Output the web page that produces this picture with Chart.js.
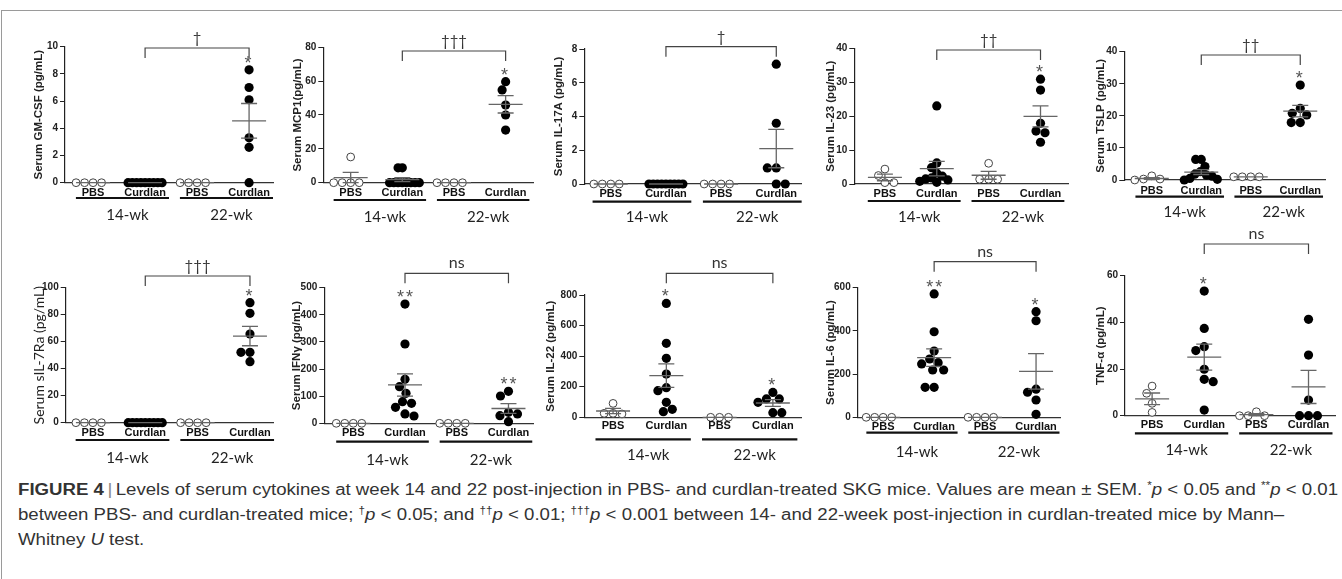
<!DOCTYPE html>
<html>
<head>
<meta charset="utf-8">
<script src="https://cdn.jsdelivr.net/npm/chart.js@4.4.1/dist/chart.umd.min.js"></script>
<style>
  body { margin: 0; background: #fff; width: 1342px; height: 579px; overflow: hidden; position: relative; }
  .frame { position: absolute; left: 1px; top: 10px; width: 1341px; height: 569px; border-top: 1px solid #9a9a9a; border-left: 1px solid #9a9a9a; }
  .panel { position: absolute; }
  .cap { position: absolute; left: 18px; white-space: nowrap; font-family: "Liberation Sans Narrow", "Liberation Sans", Arial, sans-serif; font-size: 16px; line-height: 20px; color: #333; transform-origin: 0 50%; }
  .cap sup { font-size: 10px; vertical-align: 6px; line-height: 0; }
  .bar { color: #888; padding: 0 3px; }
</style>
</head>
<body>
<div class="frame"></div>
<div id="charts"></div>
<div class="cap" id="cap1" style="top:480px"><b>FIGURE 4</b><span class="bar">|</span>Levels of serum cytokines at week 14 and 22 post-injection in PBS- and curdlan-treated SKG mice. Values are mean ± SEM. <sup>*</sup><i>p</i> &lt; 0.05 and <sup>**</sup><i>p</i> &lt; 0.01</div>
<div class="cap" style="top:505px">between PBS- and curdlan-treated mice; <sup>†</sup><i>p</i> &lt; 0.05; and <sup>††</sup><i>p</i> &lt; 0.01; <sup>†††</sup><i>p</i> &lt; 0.001 between 14- and 22-week post-injection in curdlan-treated mice by Mann–</div>
<div class="cap" style="top:530px">Whitney <i>U</i> test.</div>

<script>
// groups on every panel
const groupLabels = ["PBS", "Curdlan", "PBS", "Curdlan"];
const weekLabels = ["14-wk", "22-wk"];

const axisTitles = [
  "Serum GM-CSF (pg/mL)", "Serum MCP1(pg/mL)", "Serum IL-17A (pg/mL)", "Serum IL-23 (pg/mL)", "Serum TSLP (pg/mL)",
  "Serum sIL-7Ra (pg/mL)", "Serum IFN\u03b3 (pg/mL)", "Serum IL-22 (pg/mL)", "Serum IL-6 (pg/mL)", "TNF-\u03b1 (pg/mL)"
];
// label over the 14-wk vs 22-wk curdlan bracket
const sigLabels = ["\u2020", "\u2020\u2020\u2020", "\u2020", "\u2020\u2020", "\u2020\u2020", "\u2020\u2020\u2020", "ns", "ns", "ns", "ns"];

// values per group: [PBS 14-wk, Curdlan 14-wk, PBS 22-wk, Curdlan 22-wk]
const gmCsf = [[0, 0, 0, 0], [0, 0, 0, 0, 0, 0, 0, 0, 0], [0, 0, 0, 0], [8.3, 7.0, 6.1, 3.3, 2.6, 0]];
const mcp1 = [[15.2, 0, 0, 0, 0], [8.8, 8.8, 0, 0, 0, 0, 0, 0, 0, 0], [0, 0, 0, 0], [59.7, 54.8, 45.9, 40.0, 31.1]];
const il17a = [[0, 0, 0, 0], [0, 0, 0, 0, 0, 0, 0, 0, 0], [0, 0, 0, 0], [7.1, 3.6, 0.95, 0.95, 0, 0]];
const il23 = [[4.4, 2.5, 0.4, 0.4], [23, 6.2, 4.8, 3.2, 2.3, 1.8, 1.5, 1.2, 0.8, 0.5], [6.1, 1.4, 1.4, 1.4], [30.9, 27.7, 17.9, 15.6, 15.1, 12.3]];
const tslp = [[0, 0.3, 1.3, 0.3], [6.4, 6.4, 4.2, 2.6, 1.8, 1.5, 1.2, 0.5, 0.2, 0], [1.0, 1.0, 1.0, 1.0], [29.6, 22.3, 20.8, 20.3, 17.9, 17.9]];
const sil7ra = [[0, 0, 0, 0], [0, 0, 0, 0, 0, 0, 0, 0, 0], [0, 0, 0, 0], [88.9, 81.0, 65.7, 52.1, 52.1, 45.2]];
const ifng = [[0, 0, 0, 0], [439.8, 292.4, 162, 135, 110.6, 79.9, 73.7, 59, 34.4, 27], [0, 0, 0, 0], [118, 100.7, 40.5, 34.4, 28, 6]];
const il22 = [[91, 26, 26, 22], [745, 484, 386, 283, 194, 174, 98, 52, 37], [0, 0, 0], [163, 120, 120, 98, 30.5, 30.5]];
const il6 = [[0, 0, 0, 0], [571, 396, 307, 270, 253, 247, 219, 219, 139, 139], [0, 0, 0, 0], [489, 447, 130, 116, 80, 14]];
const tnfa = [[12.7, 9.6, 5.3, 1.4], [53.4, 37.4, 29.6, 27.9, 19.9, 15.6, 14.6, 2.4], [0, 0, 1.7, 0], [41.3, 26, 6.7, 0, 0, 0]];

// y tick labels
const gmCsfTicks = [0, 2, 4, 6, 8, 10];
const mcp1Ticks = [0, 20, 40, 60, 80];
const il17aTicks = [0, 2, 4, 6, 8];
const il23Ticks = [0, 10, 20, 30, 40];
const tslpTicks = [0, 10, 20, 30, 40];
const sil7raTicks = [0, 20, 40, 60, 80, 100];
const ifngTicks = [0, 100, 200, 300, 400, 500];
const il22Ticks = [0, 200, 400, 600, 800];
const il6Ticks = [0, 200, 400, 600];
const tnfaTicks = [0, 20, 40, 60];

// significance vs PBS, per group
const gmCsfStars = ["", "", "", "*"];
const mcp1Stars = ["", "", "", "*"];
const il17aStars = ["", "", "", ""];
const il23Stars = ["", "", "", "*"];
const tslpStars = ["", "", "", "*"];
const sil7raStars = ["", "", "", "*"];
const ifngStars = ["", "**", "", "**"];
const il22Stars = ["", "*", "", "*"];
const il6Stars = ["", "**", "", "*"];
const tnfaStars = ["", "*", "", ""];

const panelData = [
  [gmCsf, gmCsfTicks, gmCsfStars], [mcp1, mcp1Ticks, mcp1Stars], [il17a, il17aTicks, il17aStars],
  [il23, il23Ticks, il23Stars], [tslp, tslpTicks, tslpStars], [sil7ra, sil7raTicks, sil7raStars],
  [ifng, ifngTicks, ifngStars], [il22, il22Ticks, il22Stars], [il6, il6Ticks, il6Stars], [tnfa, tnfaTicks, tnfaStars]
];

// page layout: canvas box, plot edges (axis x, top, right, zero line), x limits, title x, bracket y, label offsets
const layouts = [
  { box: [20, 12, 262, 216], plot: [65, 46.7, 273, 182.7], xLim: [0.46, 4.46], titleX: 39, brY: 48, dy: [10.3, 15.3, 32.3] },
  { box: [284, 12, 258, 216], plot: [323.3, 47.3, 533, 182.7], xLim: [0.47, 4.53], titleX: 297.5, brY: 51, dy: [10.6, 17.3, 34] },
  { box: [544, 12, 262, 216], plot: [584.3, 49, 801.7, 184], xLim: [0.52, 4.45], titleX: 559, brY: 46.7, dy: [10, 17.7, 32.7] },
  { box: [808, 12, 268, 216], plot: [854.3, 48.3, 1068, 184], xLim: [0.41, 4.53], titleX: 830.5, brY: 50, dy: [10, 17, 32.7] },
  { box: [1080, 12, 260, 216], plot: [1124.3, 51.7, 1325, 180], xLim: [0.445, 4.5], titleX: 1100.5, brY: 55, dy: [10.7, 16.7, 31.7] },
  { box: [20, 222, 262, 250], plot: [65.7, 287.7, 273, 422.7], xLim: [0.48, 4.44], titleX: 39, brY: 276, dy: [10.6, 17.3, 35.6], plainTitle: true },
  { box: [284, 222, 258, 250], plot: [324.3, 287.7, 533.3, 423.3], xLim: [0.44, 4.48], titleX: 296.5, brY: 273.3, dy: [10, 18.4, 36.7] },
  { box: [544, 222, 262, 250], plot: [584.3, 295, 803.3, 417.3], xLim: [0.46, 4.53], titleX: 551, brY: 273.3, dy: [8.7, 22, 37.7] },
  { box: [808, 222, 268, 250], plot: [857.7, 287.7, 1060, 417.3], xLim: [0.5, 4.47], titleX: 830.5, brY: 261.7, dy: [10, 15.4, 34.4] },
  { box: [1080, 222, 260, 250], plot: [1125, 275.7, 1336.7, 415.7], xLim: [0.48, 4.51], titleX: 1100.5, brY: 244, dy: [9.3, 17.6, 34.3] }
];

const ARIAL = '"Liberation Sans", Arial, sans-serif';

// simple beeswarm so equal values sit side by side
function swarm(vals, cat, pxPerY, pxPerX) {
  const D = 9, maxHalf = 17;
  const order = vals.map((v, i) => i).sort((a, b) => vals[b] - vals[a]);
  const placed = [];
  const offs = new Array(vals.length).fill(0);
  let side = -1;
  order.forEach(i => {
    const py = vals[i] * pxPerY;
    let ox = 0;
    for (let k = 0; k < 400; k++) {
      const cands = k === 0 ? [0] : [side * k * 0.5, -side * k * 0.5];
      const hit = cands.find(c => placed.every(p => (p.ox - c) ** 2 + (p.py - py) ** 2 >= D * D));
      if (hit !== undefined) { ox = hit; break; }
    }
    if (ox !== 0) side = -Math.sign(ox);
    placed.push({ ox, py });
    offs[i] = ox;
  });
  const m = Math.max(...offs.map(Math.abs));
  const s = m > maxHalf ? maxHalf / m : 1;
  return vals.map((v, i) => ({ x: cat + offs[i] * s / pxPerX, y: v }));
}

function meanSem(vals) {
  const n = vals.length;
  const m = vals.reduce((a, b) => a + b, 0) / n;
  const sd = Math.sqrt(vals.reduce((a, b) => a + (b - m) ** 2, 0) / (n - 1));
  return { m, sem: sd / Math.sqrt(n) };
}

function makeDeco(idx, values, stars, L) {
  return {
    id: 'deco' + idx,
    afterDatasetsDraw(chart) {
      const ctx = chart.ctx, xs = chart.scales.x, ys = chart.scales.y;
      ctx.save();
      ctx.strokeStyle = '#666';
      ctx.lineWidth = 1.3;
      values.forEach((g, gi) => {
        const st = meanSem(g);
        const cx = xs.getPixelForValue(gi + 1);
        const ym = ys.getPixelForValue(st.m);
        const yl = ys.getPixelForValue(st.m - st.sem);
        const yh = ys.getPixelForValue(st.m + st.sem);
        ctx.beginPath();
        ctx.moveTo(cx - 17, ym); ctx.lineTo(cx + 17, ym);
        ctx.moveTo(cx, yl); ctx.lineTo(cx, yh);
        ctx.moveTo(cx - 8, yl); ctx.lineTo(cx + 8, yl);
        ctx.moveTo(cx - 8, yh); ctx.lineTo(cx + 8, yh);
        ctx.stroke();
      });
      ctx.restore();
    },
    afterDraw(chart) {
      const ctx = chart.ctx, xs = chart.scales.x, ys = chart.scales.y;
      const ox = L.box[0], oy = L.box[1];
      const y0 = ys.getPixelForValue(0);
      ctx.save();
      // y-axis title
      ctx.save();
      ctx.translate(L.titleX - ox, (chart.chartArea.top + chart.chartArea.bottom) / 2);
      ctx.rotate(-Math.PI / 2);
      ctx.fillStyle = '#222';
      ctx.textAlign = 'center';
      ctx.textBaseline = 'middle';
      ctx.font = L.plainTitle ? '14px Lato, sans-serif' : 'bold 11.5px ' + ARIAL;
      ctx.fillText(axisTitles[idx], 0, 0);
      ctx.restore();
      // group labels
      ctx.fillStyle = '#111';
      ctx.textAlign = 'center';
      ctx.textBaseline = 'middle';
      ctx.font = 'bold 11px ' + ARIAL;
      groupLabels.forEach((t, gi) => ctx.fillText(t, xs.getPixelForValue(gi + 1), y0 + L.dy[0]));
      // week underlines and labels
      ctx.strokeStyle = '#111';
      ctx.lineWidth = 2.2;
      ctx.font = '15px Lato, sans-serif';
      ctx.fillStyle = '#222';
      weekLabels.forEach((t, wi) => {
        const a = xs.getPixelForValue(2 * wi + 1 - 0.33);
        const b = xs.getPixelForValue(2 * wi + 2 + 0.46);
        ctx.beginPath();
        ctx.moveTo(a, y0 + L.dy[1]); ctx.lineTo(b, y0 + L.dy[1]);
        ctx.stroke();
        ctx.fillText(t, (a + b) / 2 + 5, y0 + L.dy[2]);
      });
      // bracket between curdlan groups
      const bx1 = xs.getPixelForValue(2), bx2 = xs.getPixelForValue(4), by = L.brY - oy;
      ctx.strokeStyle = '#444';
      ctx.lineWidth = 1.2;
      ctx.beginPath();
      ctx.moveTo(bx1, by + 10); ctx.lineTo(bx1, by); ctx.lineTo(bx2, by); ctx.lineTo(bx2, by + 10);
      ctx.stroke();
      const sig = sigLabels[idx];
      ctx.fillStyle = '#333';
      ctx.textBaseline = 'alphabetic';
      ctx.font = sig === 'ns' ? '16px Lato, sans-serif' : '15px Lato, sans-serif';
      ctx.fillText(sig, (bx1 + bx2) / 2, by - 5);
      // asterisks
      ctx.fillStyle = '#555';
      ctx.font = '18px ' + ARIAL;
      ctx.letterSpacing = '2px';
      stars.forEach((s, gi) => {
        if (!s) return;
        const top = ys.getPixelForValue(Math.max(...values[gi]));
        ctx.fillText(s, xs.getPixelForValue(gi + 1) + (s.length > 1 ? 1 : 0), top - 1);
      });
      ctx.restore();
    }
  };
}

const holder = document.getElementById('charts');
panelData.forEach(([values, ticks, stars], idx) => {
  const L = layouts[idx];
  const [left, top, w, h] = L.box;
  const [axisX, yTop, xRight, y0] = L.plot;
  const div = document.createElement('div');
  div.className = 'panel';
  div.style.left = left + 'px';
  div.style.top = top + 'px';
  const cv = document.createElement('canvas');
  cv.width = w; cv.height = h;
  div.appendChild(cv);
  holder.appendChild(div);

  const yMax = ticks[ticks.length - 1];
  const pxPerY = (y0 - yTop) / (yMax - ticks[0]);
  const pxPerX = (xRight - axisX) / (L.xLim[1] - L.xLim[0]);

  new Chart(cv, {
    type: 'scatter',
    data: {
      datasets: values.map((g, gi) => ({
        data: swarm(g, gi + 1, pxPerY, pxPerX),
        pointRadius: gi % 2 ? 4.6 : 3.9,
        pointHoverRadius: 0,
        pointBackgroundColor: gi % 2 ? '#000' : '#fff',
        pointBorderColor: gi % 2 ? '#000' : '#444',
        pointBorderWidth: gi % 2 ? 0 : 1,
        clip: false
      }))
    },
    options: {
      responsive: false,
      animation: false,
      events: [],
      layout: { padding: { left: 0, top: yTop - top, right: left + w - xRight, bottom: top + h - y0 } },
      plugins: { legend: { display: false }, tooltip: { enabled: false } },
      scales: {
        x: {
          type: 'linear', min: L.xLim[0], max: L.xLim[1],
          ticks: { display: false },
          grid: { display: false },
          border: { color: '#333', width: 1.2 },
          afterFit: s => { s.height = 0; }
        },
        y: {
          min: ticks[0], max: yMax,
          afterBuildTicks: s => { s.ticks = ticks.map(v => ({ value: v })); },
          ticks: { font: { family: ARIAL, size: 10, weight: 'bold' }, color: '#222', padding: 2 },
          grid: { drawOnChartArea: false, tickLength: 5, color: '#222', lineWidth: 1 },
          border: { color: '#222', width: 1.2 },
          afterFit: s => { s.width = axisX - left; }
        }
      }
    },
    plugins: [makeDeco(idx, values, stars, L)]
  });
});

// squeeze the caption to the narrow caption face width
const cap1 = document.getElementById('cap1');
const k = 1320 / cap1.getBoundingClientRect().width;
document.querySelectorAll('.cap').forEach(e => { e.style.transform = 'scaleX(' + k + ')'; });
</script>
</body>
</html>
